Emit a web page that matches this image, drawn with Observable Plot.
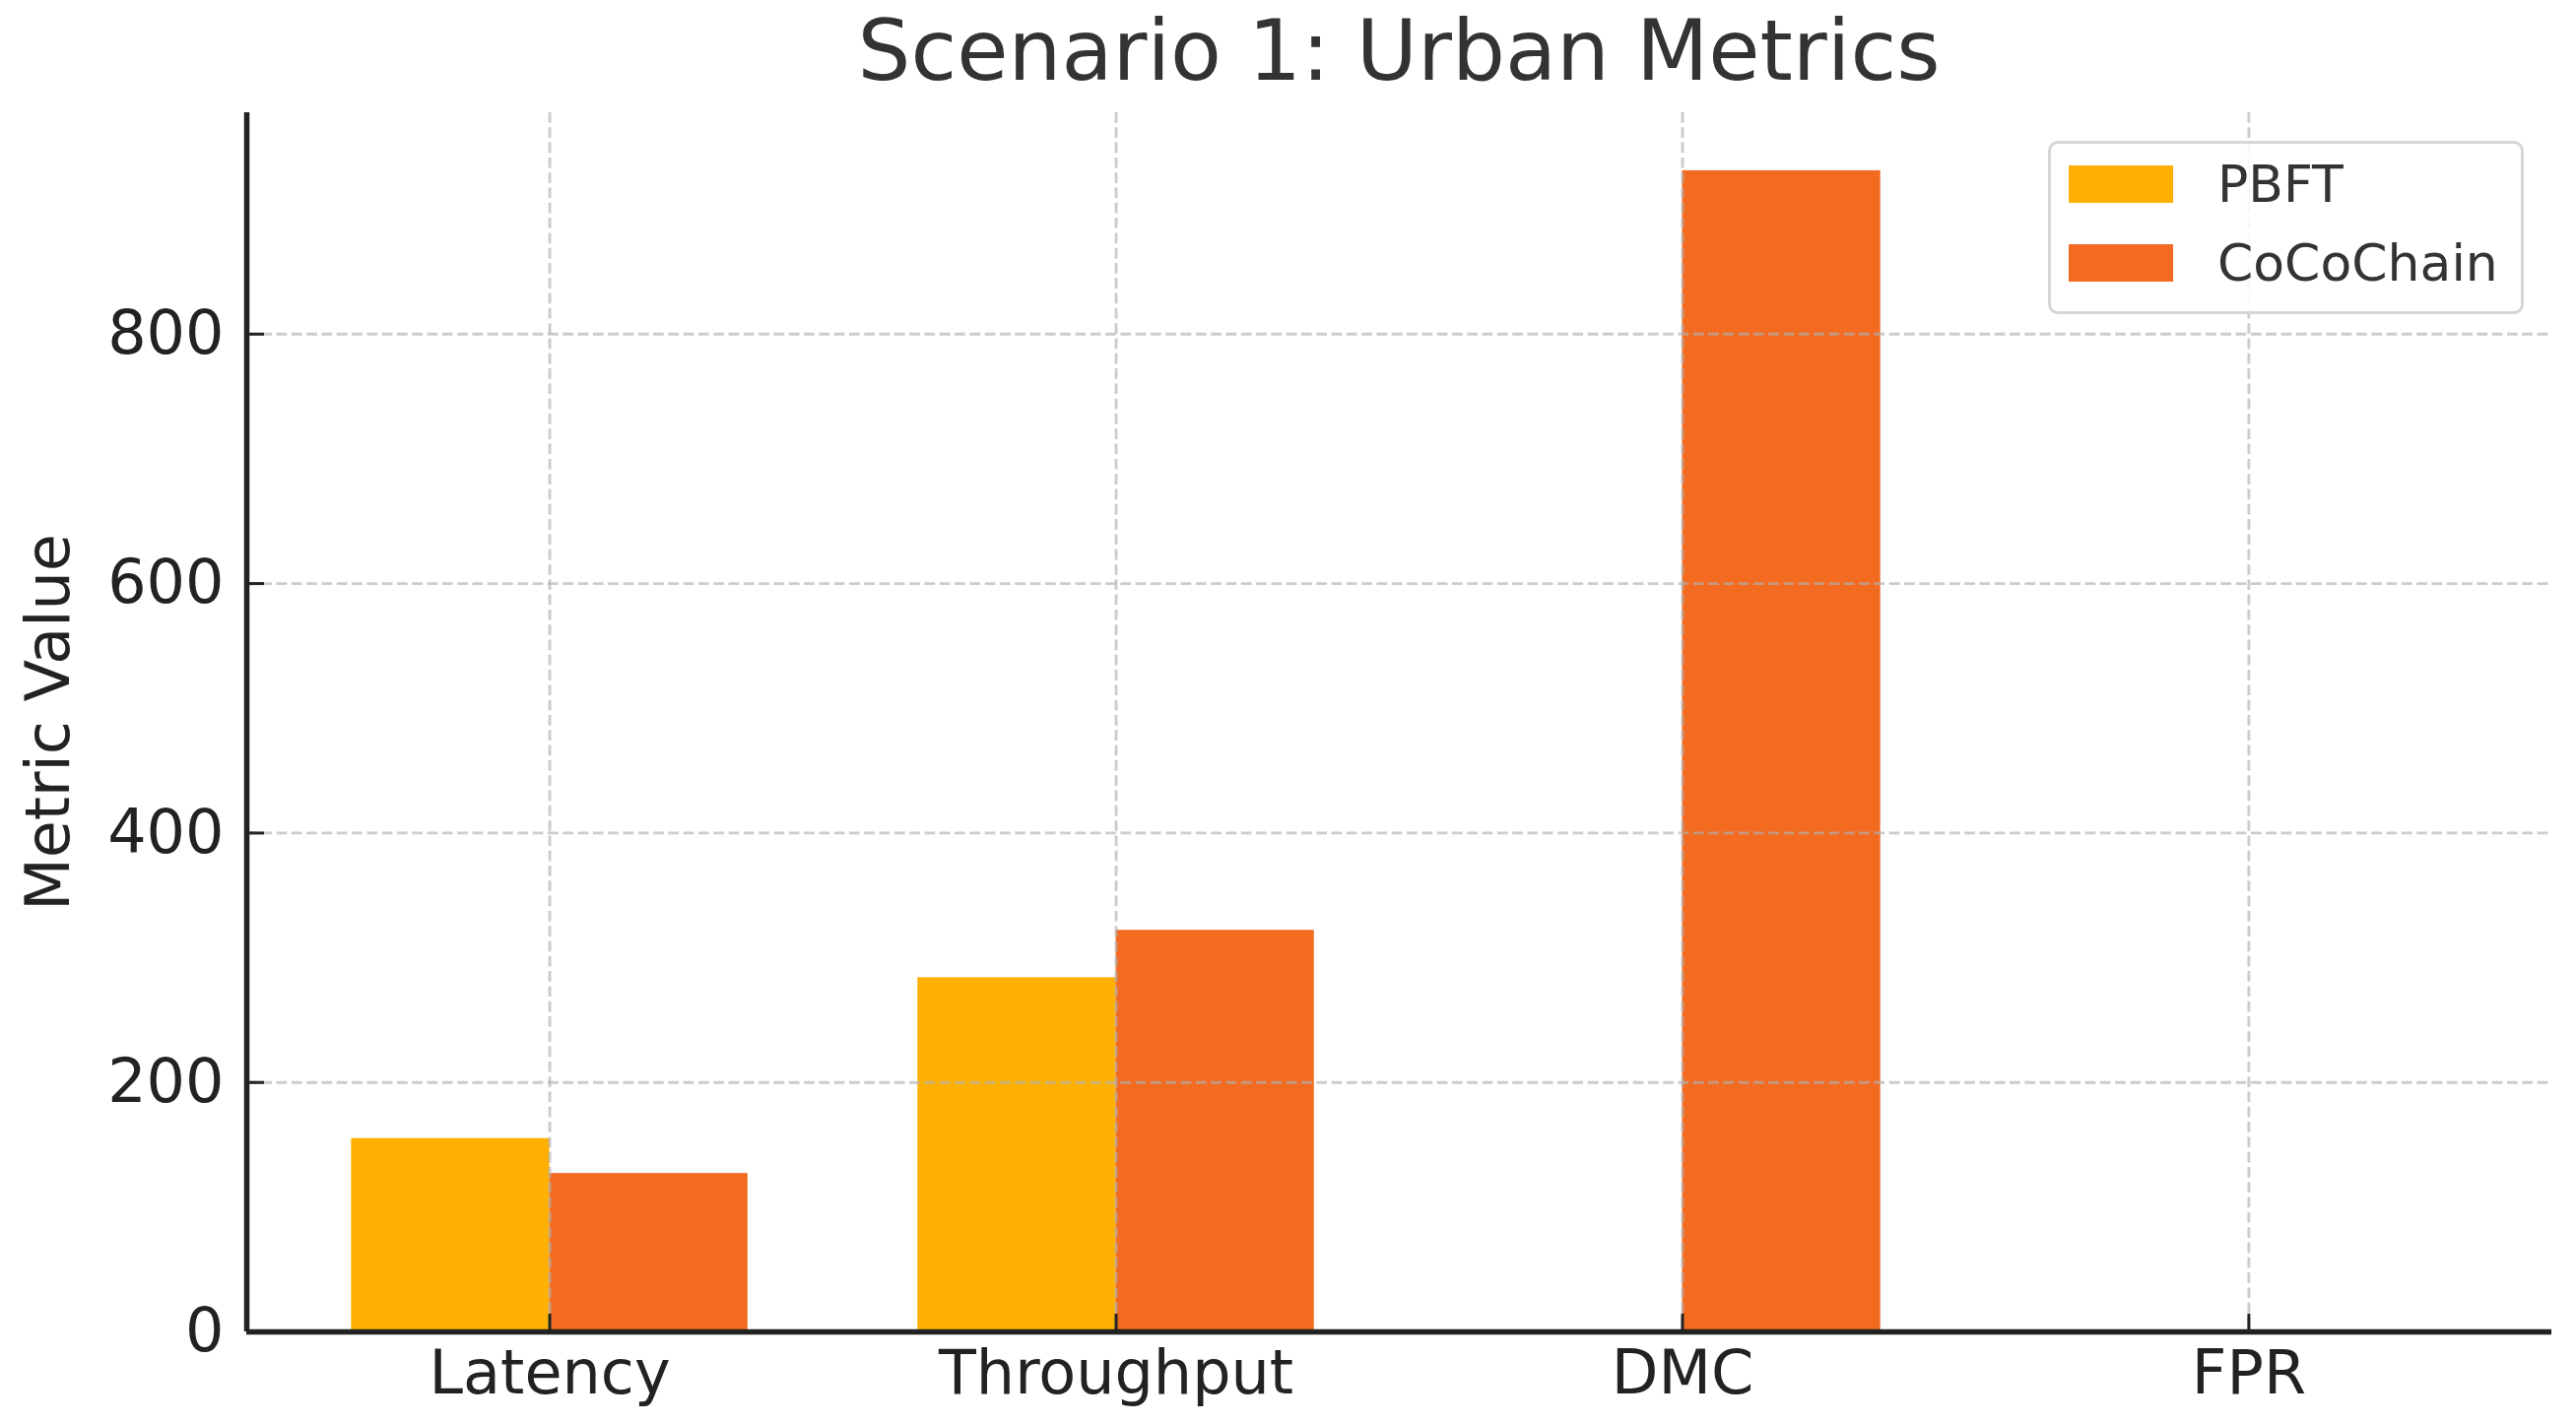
<!DOCTYPE html>
<html><head><meta charset="utf-8">
<script src="https://cdn.jsdelivr.net/npm/d3@7"></script>
<script src="https://cdn.jsdelivr.net/npm/@observablehq/plot@0.6"></script>
<style>
body{margin:0;background:#fff;font-family:"DejaVu Sans",sans-serif;}
#wrap{position:relative;width:2615px;height:1445px;overflow:hidden;}
#title{box-sizing:border-box;height:100px;padding:3px 25px 0 250px;line-height:97px;font-size:85px;color:#333;text-align:center;white-space:nowrap;}
#legend{position:absolute;left:2079px;top:143px;width:483px;height:176px;box-sizing:border-box;border:3px solid #d6d6d6;border-radius:10px;background:rgba(255,255,255,0.85);}
.item{position:absolute;left:18px;height:40px;display:flex;align-items:center;}
.sw{width:106px;height:38px;margin-right:45px;}
.lab{font-size:52px;color:#333;line-height:40px;}
</style></head><body>
<div id="wrap"><div id="title">Scenario 1: Urban Metrics</div><div id="chart"></div><div id="legend"></div></div>
<script>
const categories = ["Latency", "Throughput", "DMC", "FPR"];
const series = ["PBFT", "CoCoChain"];
const pbftValues = [155, 284, 0, 0];
const cocoValues = [127, 322, 931, 0];
const yTicks = [0, 200, 400, 600, 800];
const seriesColors = ["#FFB000", "#F26B21"];
const yLabel = "Metric Value";

const barWidth = 0.35;
const valuesBySeries = [pbftValues, cocoValues];
const rows = categories.flatMap((c, i) => series.map((s, k) => ({category: c, i, series: s, k, value: valuesBySeries[k][i]})));
const xDomain = [-barWidth - 0.185, categories.length - 1 + barWidth + 0.185];
const gridStyle = {stroke: "#b0b0b0", strokeOpacity: 0.65, strokeWidth: 2.9, strokeDasharray: "10.7,4.6"};

const chart = Plot.plot({
  width: 2615, height: 1345,
  marginTop: 14, marginBottom: 93, marginLeft: 250, marginRight: 25,
  style: {fontFamily: "DejaVu Sans", fontSize: "62px", color: "#222", background: "#fff", overflow: "visible"},
  x: {domain: xDomain},
  y: {domain: [0, 977.5]},
  color: {domain: series, range: seriesColors},
  marks: [
    Plot.rectY(rows, {x1: d => d.i + (d.k - 1) * barWidth, x2: d => d.i + d.k * barWidth, y: "value", fill: "series"}),
    Plot.gridY(yTicks.filter(t => t > 0), gridStyle),
    Plot.gridX(categories.map((c, i) => i), gridStyle),
    Plot.axisY(yTicks, {tickSize: -18, tickPadding: 41, strokeWidth: 3, stroke: "#222", fill: "#222", label: null}),
    Plot.axisX(categories.map((c, i) => i), {tickFormat: i => categories[i], tickSize: -18, tickPadding: 36, strokeWidth: 3, stroke: "#222", fill: "#222", label: null}),
    Plot.ruleY([0], {stroke: "#222", strokeWidth: 5.5}),
    Plot.ruleX([xDomain[0]], {stroke: "#222", strokeWidth: 5.5}),
    Plot.text([yLabel], {frameAnchor: "left", textAnchor: "middle", rotate: -90, dx: -200, fontSize: 62, fill: "#222"})
  ]
});
document.getElementById("chart").appendChild(chart);

const legend = document.getElementById("legend");
series.forEach((s, k) => {
  const it = document.createElement("div");
  it.className = "item";
  it.style.top = (21 + k * 80) + "px";
  it.innerHTML = `<div class="sw" style="background:${seriesColors[k]}"></div><span class="lab">${s}</span>`;
  legend.appendChild(it);
});
</script>
</body></html>
